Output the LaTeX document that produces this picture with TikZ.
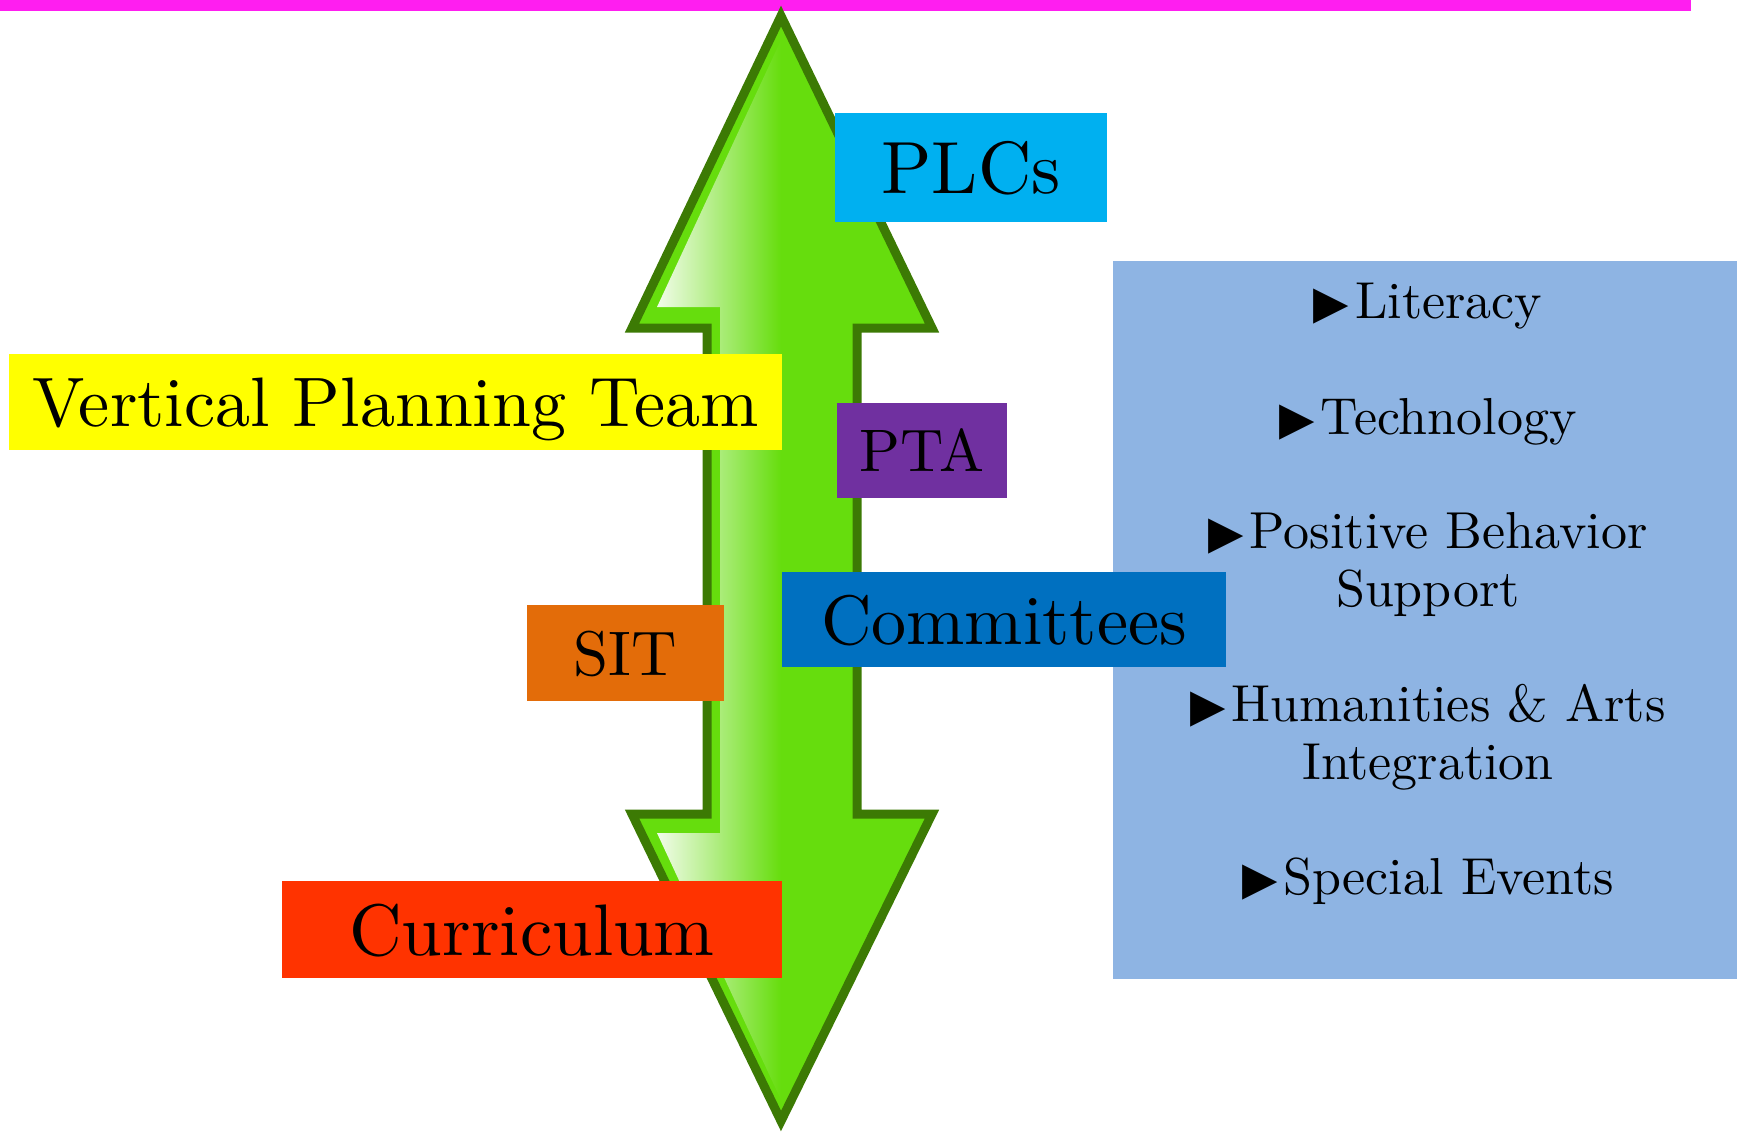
\documentclass[tikz,border=0pt]{standalone}
\usepackage{fontspec}
\setmainfont{lmroman10-regular.otf}
\newfontfamily\symfont{DejaVu Sans}
\usetikzlibrary{positioning}
\definecolor{barmagenta}{HTML}{FF1EF0}
\definecolor{arrowgreen}{HTML}{66DD0D}
\definecolor{arrowdark}{HTML}{3C7A04}
\definecolor{plcblue}{HTML}{00B0F0}
\definecolor{vptyellow}{HTML}{FFFF00}
\definecolor{ptapurple}{HTML}{7030A0}
\definecolor{comblue}{HTML}{0070C0}
\definecolor{sitorange}{HTML}{E36C09}
\definecolor{currred}{HTML}{FF3300}
\definecolor{topicblue}{HTML}{8EB4E3}
\tikzset{%
  label box/.style={inner sep=0pt, text depth=0pt, align=center}, % coloured boxes on the arrow
  topic/.style={inner sep=0pt, align=center, font=\fontsize{26}{29}\selectfont}
}
\newcommand{\topicmark}{{\symfont\fontsize{23}{23}\selectfont ▶}\hspace{3pt}}

\begin{document}
\begin{tikzpicture}[x=0.5pt, y=-0.5pt]
\useasboundingbox (0,0) rectangle (1744,1134);

\fill[barmagenta] (0,0) rectangle (1691,11);

\filldraw[fill=arrowgreen, draw=arrowdark, line width=4.5pt, line join=miter]
  (781,16) -- (932,328) -- (857,328) -- (857,814) -- (932,814) -- (781,1121)
  -- (632,814) -- (707,814) -- (707,328) -- (632,328) -- cycle;
\begin{scope}
\clip (781,40) -- (905,307) -- (845,307) -- (845,833) -- (905,833) -- (781,1100)
  -- (657,833) -- (720,833) -- (720,307) -- (657,307) -- cycle;
\shade[left color=white, right color=arrowgreen] (645,0) rectangle (781,1134);
\end{scope}

\node[fill=topicblue, inner sep=0pt, minimum width=312pt, minimum height=359pt] (topics) at (1425,620) {};
\node[topic, anchor=base] (lit) at (1428,318) {\topicmark Literacy};
\node[topic, anchor=base] (tech) at (1428,434) {\topicmark Technology};
\node[topic] (pbs) at (1428,564) {\topicmark Positive Behavior\\Support};
\node[topic] (hum) at (1428,737) {\topicmark Humanities \& Arts\\Integration};
\node[topic, anchor=base] (events) at (1428,894) {\topicmark Special Events};

\node[label box, fill=plcblue, minimum width=136pt, minimum height=54.5pt, font=\fontsize{37}{40}\selectfont] (plc) at (971,167.5) {PLCs};
\node[label box, fill=vptyellow, minimum width=386.5pt, minimum height=48pt, font=\fontsize{35}{38}\selectfont] (vpt) at (395.5,402) {Vertical Planning Team};
\node[label box, fill=ptapurple, minimum width=85pt, minimum height=47.5pt, font=\fontsize{30}{34}\selectfont] (pta) at (922,450.5) {PTA};
\node[label box, fill=comblue, minimum width=222pt, minimum height=47.5pt, font=\fontsize{35}{39}\selectfont] (com) at (1004,619.5) {Committees};
\node[label box, fill=sitorange, minimum width=98.5pt, minimum height=48pt, font=\fontsize{31.5}{35}\selectfont] (sit) at (625.5,653) {SIT};
\node[label box, fill=currred, minimum width=250pt, minimum height=48.5pt, font=\fontsize{36.5}{40}\selectfont] (curr) at (532,929.5) {Curriculum};

\end{tikzpicture}
\end{document}
